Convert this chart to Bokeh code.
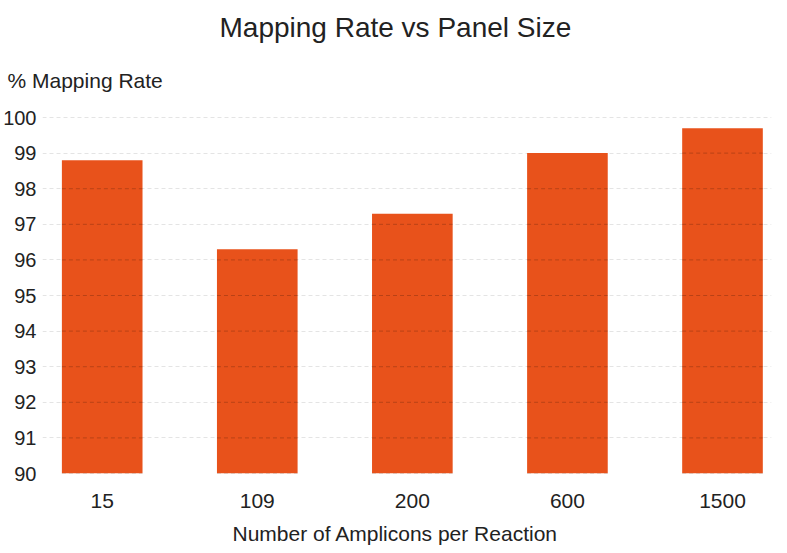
from bokeh.plotting import figure
from bokeh.models import Range1d, FixedTicker, Title
from bokeh.embed import file_html
from bokeh.resources import INLINE

categories = ["15", "109", "200", "600", "1500"]
mapping_rate = [98.8, 96.3, 97.3, 99.0, 99.7]
y_ticks = [90, 91, 92, 93, 94, 95, 96, 97, 98, 99, 100]

xpos = list(range(len(categories)))
FONT = "Liberation Sans"
TXT = "#222222"
BAR_W = 0.52

p = figure(width=787, height=553, output_backend="svg", toolbar_location=None,
           x_range=Range1d(-0.385, 4.316), y_range=Range1d(90, 100.45),
           min_border_left=38, min_border_right=16, min_border_bottom=80,
           min_border_top=100, title=None)

p.vbar(x=xpos, top=mapping_rate, bottom=90, width=BAR_W,
       fill_color="#E8521B", line_color=None)

# dashed grid showing through the bars
sx0, sx1, sy = [], [], []
for i, v in zip(xpos, mapping_rate):
    for t in y_ticks:
        if t < v:
            sx0.append(i - BAR_W / 2)
            sx1.append(i + BAR_W / 2)
            sy.append(t)
p.segment(x0=sx0, x1=sx1, y0=sy, y1=sy, line_color="black", line_alpha=0.2,
          line_width=1, line_dash="4 3")

p.outline_line_color = None
p.xgrid.grid_line_color = None
p.ygrid.ticker = FixedTicker(ticks=y_ticks)
p.ygrid.grid_line_color = "#e4e4e4"
p.ygrid.grid_line_dash = "4 3"

p.yaxis.ticker = FixedTicker(ticks=y_ticks)
p.xaxis.ticker = FixedTicker(ticks=xpos)
p.xaxis.major_label_overrides = {i: c for i, c in zip(xpos, categories)}
for ax in (p.xaxis, p.yaxis):
    ax.axis_line_color = None
    ax.major_tick_line_color = None
    ax.minor_tick_line_color = None
    ax.major_tick_out = 0
    ax.major_tick_in = 0
    ax.major_label_text_font = FONT
    ax.major_label_text_color = TXT
p.yaxis.major_label_text_font_size = "20px"
p.yaxis.major_label_standoff = 6
p.xaxis.major_label_text_font_size = "21px"
p.xaxis.major_label_standoff = 20

p.add_layout(Title(text="% Mapping Rate", align="left", offset=-35,
                   vertical_align="bottom",
                   text_font=FONT, text_font_size="21px", text_font_style="normal",
                   text_color=TXT, standoff=20), "above")
p.add_layout(Title(text="Mapping Rate vs Panel Size", align="left", offset=177,
                   vertical_align="top",
                   text_font=FONT, text_font_size="28px", text_font_style="normal",
                   text_color=TXT, standoff=23), "above")
p.add_layout(Title(text="Number of Amplicons per Reaction", align="left", offset=190,
                   text_font=FONT, text_font_size="21px", text_font_style="normal",
                   text_color=TXT, standoff=18), "below")

open("out.html", "w").write(file_html(p, INLINE))
